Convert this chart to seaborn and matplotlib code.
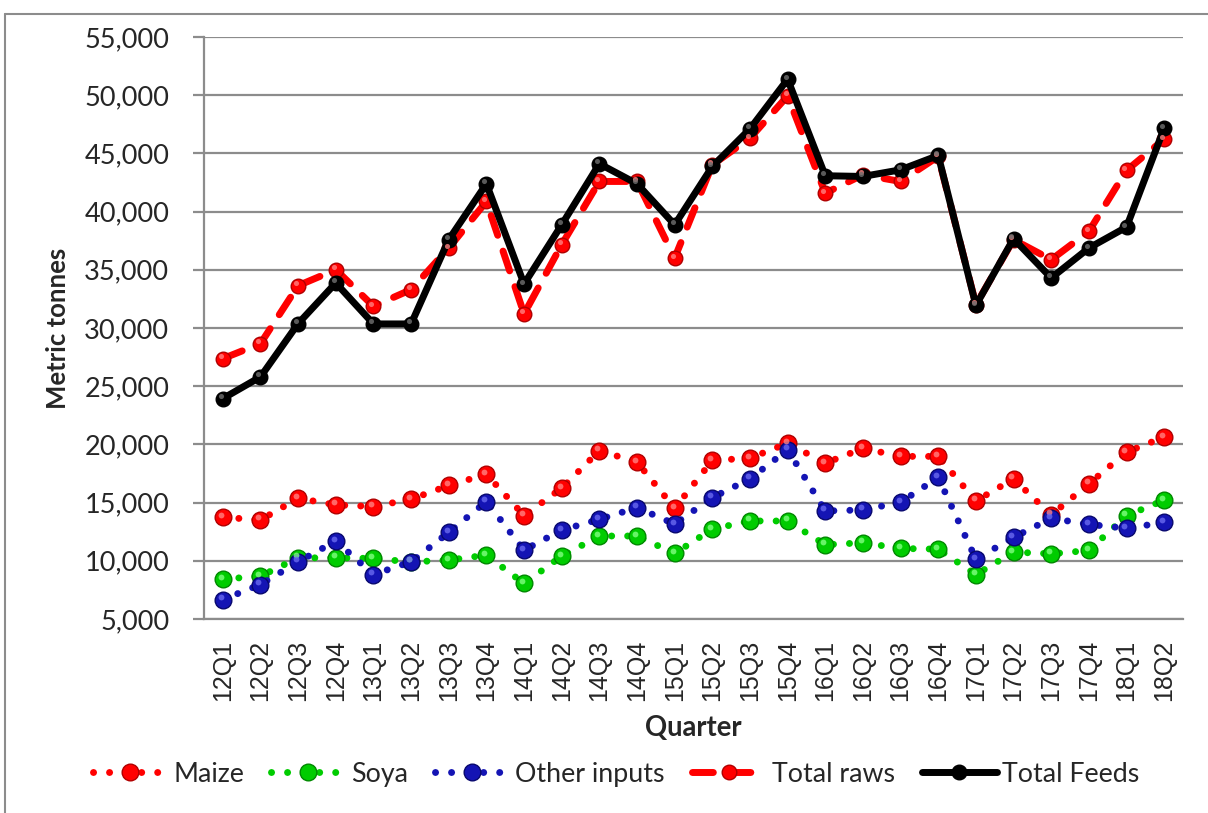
import numpy as np
import pandas as pd
import matplotlib
matplotlib.use("Agg")
import matplotlib.pyplot as plt
import seaborn as sns
from matplotlib.ticker import FuncFormatter, MultipleLocator, FixedLocator
from matplotlib.lines import Line2D
from matplotlib.transforms import ScaledTranslation

quarters = ["12Q1", "12Q2", "12Q3", "12Q4", "13Q1", "13Q2", "13Q3", "13Q4",
            "14Q1", "14Q2", "14Q3", "14Q4", "15Q1", "15Q2", "15Q3", "15Q4",
            "16Q1", "16Q2", "16Q3", "16Q4", "17Q1", "17Q2", "17Q3", "17Q4",
            "18Q1", "18Q2"]
maize = [13740, 13510, 15370, 14800, 14660, 15290, 16470, 17440, 13880, 16240,
         19460, 18480, 14510, 18620, 18820, 20100, 18390, 19660, 18970, 18970,
         15140, 17040, 13940, 16610, 19340, 20630]
soya = [8420, 8680, 10250, 10260, 10200, 9900, 10060, 10490, 8050, 10400,
        12130, 12130, 10630, 12730, 13420, 13420, 11380, 11550, 11060, 11000,
        8820, 10750, 10600, 10890, 13880, 15200]
other_inputs = [6670, 7960, 9910, 11700, 8820, 9910, 12440, 15090, 10920, 12640,
                13560, 14570, 13160, 15430, 17040, 19540, 14280, 14370, 15030, 17160,
                10140, 12010, 13650, 13130, 12790, 13300]
total_raws = [27370, 28660, 33640, 35010, 31870, 33300, 36870, 40870, 31210, 37160,
              42590, 42590, 36010, 44020, 46310, 49940, 41590, 43160, 42590, 44740,
              32010, 37590, 35870, 38300, 43540, 46220]
total_feeds = [23940, 25800, 30380, 33870, 30350, 30350, 37590, 42390, 33780, 38870,
               44110, 42390, 38870, 43880, 47110, 51370, 43080, 43020, 43590, 44820,
               31950, 37670, 34300, 36870, 38670, 47170]

series_names = ["Maize", "Soya", "Other inputs", "Total raws", "Total Feeds"]

sns.set_theme(style="white")
plt.rcParams['font.family'] = ['Lato', 'DejaVu Sans']

df = pd.DataFrame({
    "Quarter": quarters,
    "Maize": maize,
    "Soya": soya,
    "Other inputs": other_inputs,
    "Total raws": total_raws,
    "Total Feeds": total_feeds,
})
df["pos"] = np.arange(len(df))

fig = plt.figure(figsize=(12.08, 8.13), dpi=100)
ax = fig.add_axes([204 / 1208, 1 - 619 / 813, (1183 - 204) / 1208, (619 - 37) / 813])

dot = (0, (0.01, 2.3))
dash = (0, (3.0, 2.4))
styles = {
    "Maize":        dict(color="#FF0000", mec="#B00000", ls=dot, lw=5.0, ms=12),
    "Soya":         dict(color="#00CC00", mec="#008800", ls=dot, lw=5.0, ms=12),
    "Other inputs": dict(color="#1414B4", mec="#08086E", ls=dot, lw=5.0, ms=12),
    "Total raws":   dict(color="#FF0000", mec="#B00000", ls=dash, lw=5.0, ms=10.5),
    "Total Feeds":  dict(color="#000000", mec="#000000", ls="-", lw=5.0, ms=10.5),
}

handles = []
for name in series_names:
    st = styles[name]
    sns.lineplot(data=df, x="pos", y=name, ax=ax, sort=False, legend=False,
                 color=st["color"], linestyle=st["ls"], linewidth=st["lw"],
                 marker="o", markersize=st["ms"], markerfacecolor=st["color"],
                 markeredgecolor=st["mec"], markeredgewidth=1.0,
                 dash_capstyle="round", solid_capstyle="round",
                 solid_joinstyle="round")
    handles.append(Line2D([], [], color=st["color"], linestyle=st["ls"], linewidth=st["lw"],
                          marker="o", markersize=st["ms"], markerfacecolor=st["color"],
                          markeredgecolor=st["mec"], markeredgewidth=1.0,
                          dash_capstyle="round", solid_capstyle="round"))

# highlights on spheres
hl = {"Maize": "#FF8080", "Soya": "#80FF80", "Other inputs": "#6A6AF0",
      "Total raws": "#FF8080", "Total Feeds": "#707070"}
off = ScaledTranslation(-1.5 / 72, 1.8 / 72, fig.dpi_scale_trans)
for name in series_names:
    st = styles[name]
    ax.plot(df["pos"], df[name], linestyle="none", marker="o", markersize=st["ms"] * 0.35,
            markerfacecolor=hl[name], markeredgewidth=0, alpha=0.8,
            transform=ax.transData + off)

grid_c = "#8C8C8C"
ax.set_ylim(5000, 55000)
ax.set_xlim(-0.5, len(quarters) - 0.5)
ax.yaxis.set_major_locator(MultipleLocator(5000))
ax.yaxis.set_major_formatter(FuncFormatter(lambda v, p: f"{v:,.0f}"))
ax.yaxis.grid(True, color=grid_c, linewidth=1.6)
ax.xaxis.grid(False)
ax.set_axisbelow(True)

ax.set_xticks(df["pos"])
ax.set_xticklabels(quarters, rotation=90, fontsize=18, family=["Liberation Sans", "DejaVu Sans"])
ax.xaxis.set_minor_locator(FixedLocator(np.arange(-0.5, len(quarters), 1)))
ax.tick_params(axis="x", which="major", length=0, pad=15)
ax.tick_params(axis="x", which="minor", length=6, width=1.6, color=grid_c, direction="out")
ax.tick_params(axis="y", which="major", length=8, width=1.6, color=grid_c, pad=17,
               labelsize=19.5, left=True)

for side in ["top", "right"]:
    ax.spines[side].set_visible(False)
for side in ["left", "bottom"]:
    ax.spines[side].set_color(grid_c)
    ax.spines[side].set_linewidth(1.6)

ax.set_xlabel("Quarter", fontsize=19.8, fontweight="bold", labelpad=10)
ax.set_ylabel("Metric tonnes", fontsize=18.5, fontweight="bold", labelpad=10)

fig.legend(handles, series_names, loc="center", bbox_to_anchor=(0.510, 1 - 774 / 813),
           ncol=5, frameon=False, fontsize=19.3, handlelength=2.8, handletextpad=0.2,
           columnspacing=1.0)

# chart border
fig.add_artist(Line2D([5 / 1208, 5 / 1208], [0, 1 - 14 / 813], color="#8C8C8C",
                      linewidth=1.5, transform=fig.transFigure))
fig.add_artist(Line2D([5 / 1208, 1], [1 - 14 / 813, 1 - 14 / 813], color="#8C8C8C",
                      linewidth=1.5, transform=fig.transFigure))

fig.savefig("out.png", dpi=100)
